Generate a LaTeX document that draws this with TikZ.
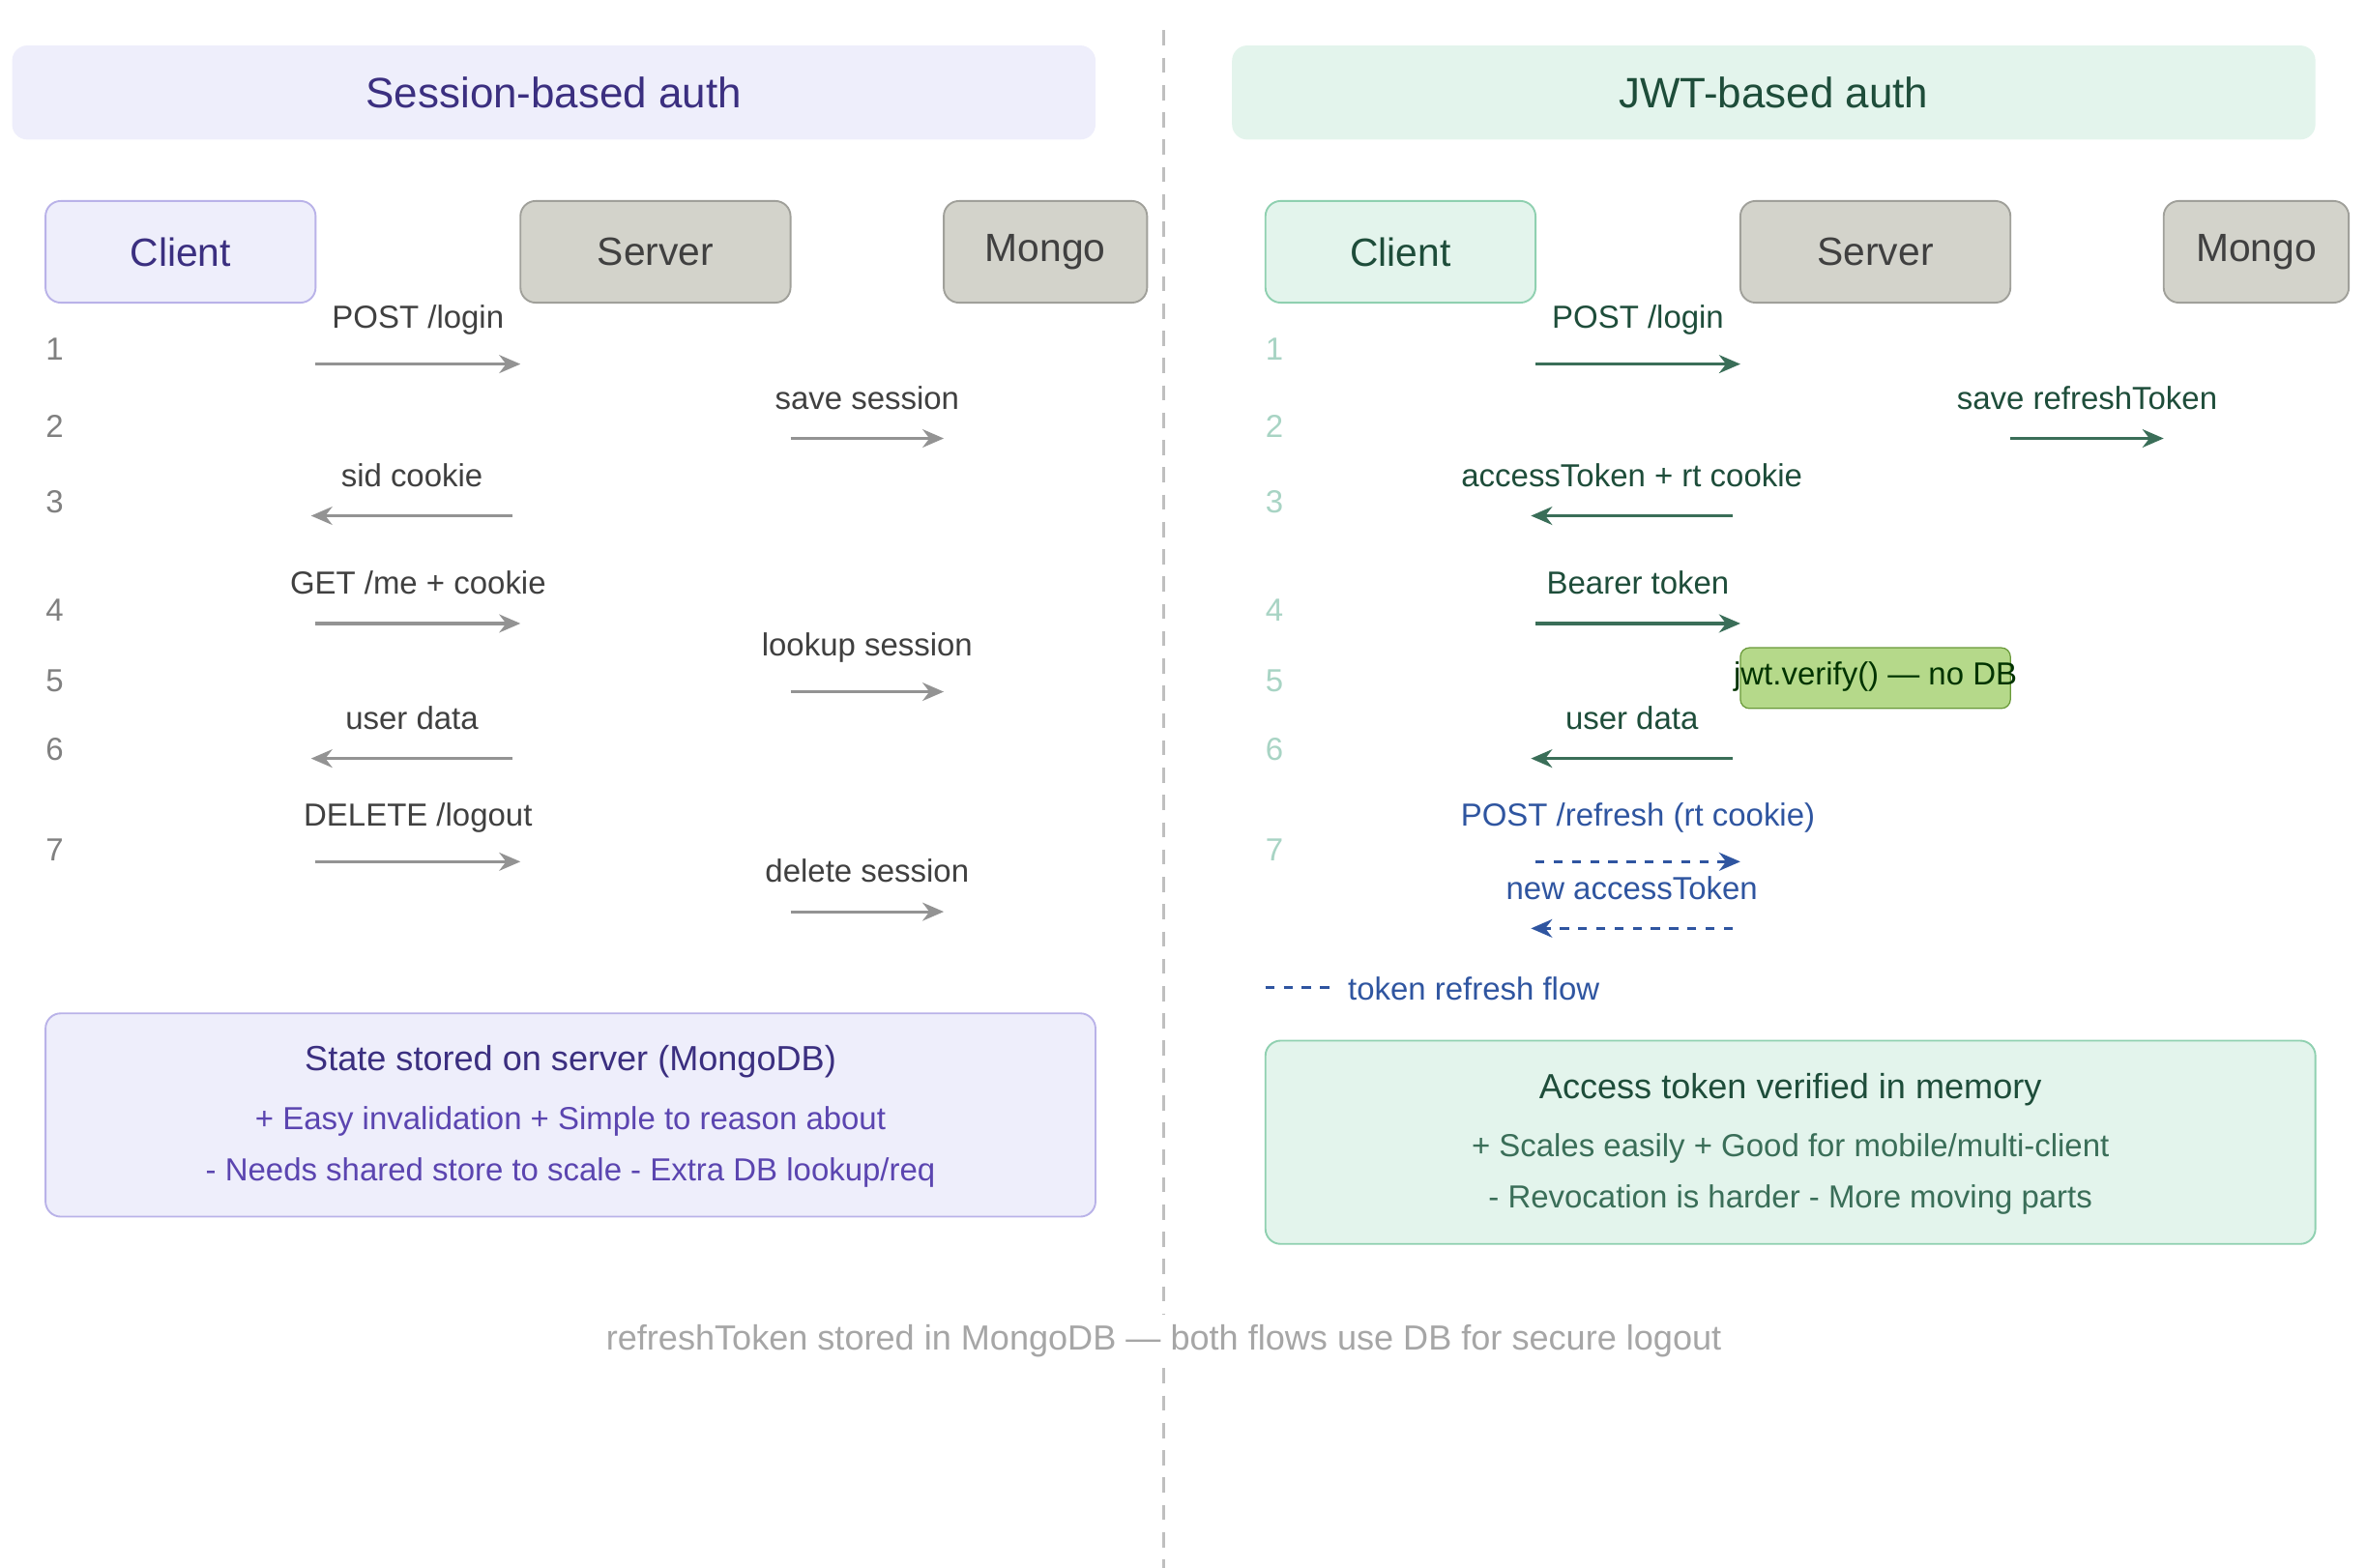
\documentclass[tikz,border=0pt]{standalone}
\usepackage{fontspec}
\setmainfont{Liberation Sans}
\usetikzlibrary{arrows.meta}
\definecolor{lav}{HTML}{EEEEFB}\definecolor{lavs}{HTML}{B9B2E8}
\definecolor{indig}{HTML}{3B2F80}\definecolor{indig2}{HTML}{5B45B0}
\definecolor{mint}{HTML}{E3F4EC}\definecolor{mints}{HTML}{8FD0B0}
\definecolor{dgreen}{HTML}{1E4D3A}\definecolor{agreen}{HTML}{3A6E58}
\definecolor{sgray}{HTML}{D3D3CB}\definecolor{sgrays}{HTML}{A0A09A}
\definecolor{ablue}{HTML}{2F55A0}\definecolor{lgreen}{HTML}{B5D98A}\definecolor{lgreens}{HTML}{6A9A3A}
\definecolor{numg}{HTML}{A8D4C4}
\begin{document}
\begin{tikzpicture}[x=0.5pt,y=-0.5pt,
 box/.style={draw, rounded corners=5pt, line width=0.6pt},
 lbl/.style={font=\fontsize{10.5}{12}\selectfont, inner sep=0},
 ga/.style={draw=gray!85, line width=1pt, -{Stealth[length=7pt,width=6pt]}},
 gra/.style={draw=agreen, line width=1pt, -{Stealth[length=7pt,width=6pt]}},
 ba/.style={draw=ablue, line width=1pt, dashed, -{Stealth[length=7pt,width=6pt]}},
 num/.style={font=\fontsize{10.5}{12}\selectfont, text=gray},
 numr/.style={font=\fontsize{10.5}{12}\selectfont, text=numg},
 actor/.style={font=\fontsize{13}{15}\selectfont}]
\useasboundingbox (0,0) rectangle (1560,1033);
\fill[white] (0,0) rectangle (1560,1033);
\draw[gray!50, line width=1pt, dash pattern=on 5pt off 4pt] (767,20) -- (767,1035);
% titles
\node[box, draw=none, fill=lav, minimum width=357pt, minimum height=31pt, text=indig, font=\fontsize{14}{16}\selectfont] (tl) at (365,61) {Session-based auth};
\node[box, draw=none, fill=mint, minimum width=357pt, minimum height=31pt, text=dgreen, font=\fontsize{14}{16}\selectfont] (tr) at (1169,61) {JWT-based auth};
% actors left
\node[box, actor, fill=lav, draw=lavs, text=indig, minimum width=89pt, minimum height=33.5pt] (c1) at (119,166) {Client};
\node[box, actor, fill=sgray, draw=sgrays, text=black!75, minimum width=89pt, minimum height=33.5pt] (s1) at (432,166) {Server};
\node[box, actor, fill=sgray, draw=sgrays, text=black!75, minimum width=67pt, minimum height=33.5pt] (m1) at (689,166) {Mongo};
% actors right
\node[box, actor, fill=mint, draw=mints, text=dgreen, minimum width=89pt, minimum height=33.5pt] (c2) at (923,166) {Client};
\node[box, actor, fill=sgray, draw=sgrays, text=black!75, minimum width=89pt, minimum height=33.5pt] (s2) at (1236,166) {Server};
\node[box, actor, fill=sgray, draw=sgrays, text=black!75, minimum width=61pt, minimum height=33.5pt] (m2) at (1487,166) {Mongo};
% numbers
\foreach \n/\y in {1/230,2/281,3/331,4/402,5/449,6/494,7/560}{
 \node[num] (nl\n) at (36,\y) {\n};
 \node[numr] (nr\n) at (840,\y) {\n};}
% left arrows
\coordinate (a1) at (208,240); \coordinate (b1) at (343,240);
\draw[ga] (a1) -- (b1) node[lbl, midway, above=9pt, text=black!75] {POST /login};
\coordinate (a2) at (521,289); \coordinate (b2) at (622,289);
\draw[ga] (a2) -- (b2) node[lbl, midway, above=9pt, text=black!75] {save session};
\coordinate (a3) at (338,340); \coordinate (b3) at (205,340);
\draw[ga] (a3) -- (b3) node[lbl, midway, above=9pt, text=black!75] {sid cookie};
\coordinate (a4) at (208,411); \coordinate (b4) at (343,411);
\draw[ga] (a4) -- (b4) node[lbl, midway, above=9pt, text=black!75] {GET /me + cookie};
\coordinate (a5) at (521,456); \coordinate (b5) at (622,456);
\draw[ga] (a5) -- (b5) node[lbl, midway, above=9pt, text=black!75] {lookup session};
\coordinate (a6) at (338,500); \coordinate (b6) at (205,500);
\draw[ga] (a6) -- (b6) node[lbl, midway, above=9pt, text=black!75] {user data};
\coordinate (a7) at (208,568); \coordinate (b7) at (343,568);
\draw[ga] (a7) -- (b7) node[lbl, midway, above=9pt, text=black!75] {DELETE /logout};
\coordinate (a8) at (521,601); \coordinate (b8) at (622,601);
\draw[ga] (a8) -- (b8) node[lbl, midway, above=9pt, text=black!75] {delete session};
% right arrows
\coordinate (r1) at (1012,240); \coordinate (q1) at (1147,240);
\draw[gra] (r1) -- (q1) node[lbl, midway, above=9pt, text=dgreen] {POST /login};
\coordinate (r2) at (1325,289); \coordinate (q2) at (1426,289);
\draw[gra] (r2) -- (q2) node[lbl, midway, above=9pt, text=dgreen] {save refreshToken};
\coordinate (r3) at (1142,340); \coordinate (q3) at (1009,340);
\draw[gra] (r3) -- (q3) node[lbl, midway, above=9pt, text=dgreen] {accessToken + rt cookie};
\coordinate (r4) at (1012,411); \coordinate (q4) at (1147,411);
\draw[gra] (r4) -- (q4) node[lbl, midway, above=9pt, text=dgreen] {Bearer token};
\node[draw=lgreens, fill=lgreen, rounded corners=3pt, minimum width=89pt, minimum height=20pt] (v) at (1236,447) {};
\node[lbl, text=black!80!green] (vt) at (1236,446) {jwt.verify() — no DB};
\coordinate (r6) at (1142,500); \coordinate (q6) at (1009,500);
\draw[gra] (r6) -- (q6) node[lbl, midway, above=9pt, text=dgreen] {user data};
\coordinate (r7) at (1012,568); \coordinate (q7) at (1147,568);
\draw[ba] (r7) -- (q7) node[lbl, midway, above=9pt, text=ablue] {POST /refresh (rt cookie)};
\coordinate (r8) at (1142,612); \coordinate (q8) at (1009,612);
\draw[ba] (r8) -- (q8) node[lbl, midway, above=9pt, text=ablue] {new accessToken};
\coordinate (lg1) at (834,651); \coordinate (lg2) at (876,651);
\draw[ablue, line width=1pt, dashed] (lg1) -- (lg2);
\node[lbl, anchor=west, text=ablue] (lgt) at (888,652) {token refresh flow};
% bottom boxes
\node[box, fill=lav, draw=lavs, minimum width=346pt, minimum height=67pt] (bl) at (376,735) {};
\node[text=indig, font=\fontsize{11.5}{13}\selectfont] (bl1) at (376,700) {State stored on server (MongoDB)};
\node[text=indig2, font=\fontsize{10.5}{12}\selectfont] (bl2) at (376,739) {+ Easy invalidation + Simple to reason about};
\node[text=indig2, font=\fontsize{10.5}{12}\selectfont] (bl3) at (376,773) {- Needs shared store to scale - Extra DB lookup/req};
\node[box, fill=mint, draw=mints, minimum width=346pt, minimum height=67pt] (br) at (1180,753) {};
\node[text=dgreen, font=\fontsize{11.5}{13}\selectfont] (br1) at (1180,718) {Access token verified in memory};
\node[text=agreen, font=\fontsize{10.5}{12}\selectfont] (br2) at (1180,757) {+ Scales easily + Good for mobile/multi-client};
\node[text=agreen, font=\fontsize{10.5}{12}\selectfont] (br3) at (1180,791) {- Revocation is harder - More moving parts};
\node[fill=white, text=gray!70, font=\fontsize{11.5}{13}\selectfont] (ft) at (767,884) {refreshToken stored in MongoDB — both flows use DB for secure logout};
\end{tikzpicture}
\end{document}
